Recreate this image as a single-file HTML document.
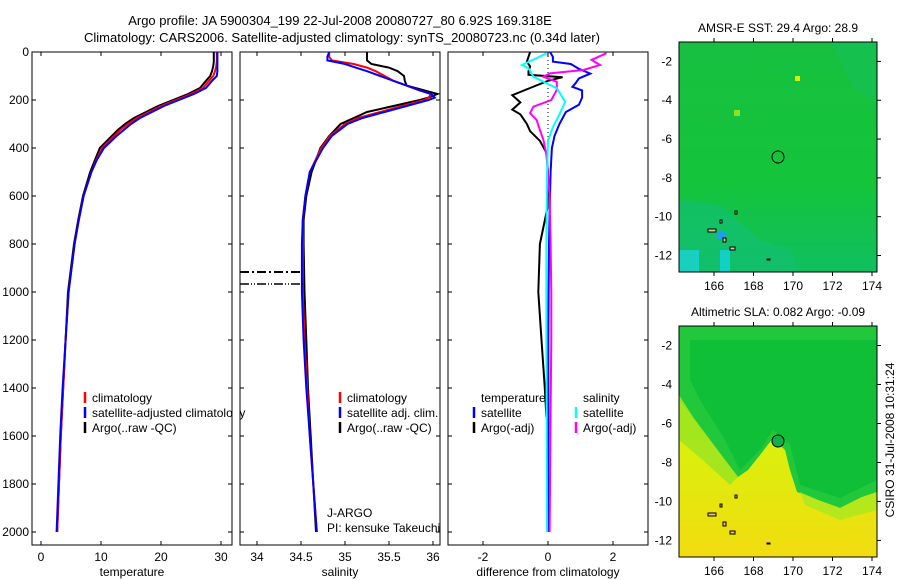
<!DOCTYPE html>
<html><head><meta charset="utf-8"><style>
body{margin:0;background:#fff;}
svg{display:block;font-family:"Liberation Sans",sans-serif;}
text{font-size:12px;fill:#000;}
</style></head><body>
<svg id="c" width="900" height="580" viewBox="0 0 900 580">
<defs>
<linearGradient id="sstg" x1="0" y1="0" x2="0" y2="1">
<stop offset="0" stop-color="#17c040"/><stop offset="0.6" stop-color="#14c43a"/><stop offset="1" stop-color="#10bf60"/></linearGradient>
<linearGradient id="slag" x1="0" y1="0" x2="0" y2="1">
<stop offset="0" stop-color="#b7ea1a"/><stop offset="0.5" stop-color="#d9f00c"/><stop offset="1" stop-color="#f2dc10"/></linearGradient>
</defs>
<g id="plots"></g>
<text x="340" y="25" text-anchor="middle" style="font-size:13px">Argo profile: JA 5900304_199 22-Jul-2008 20080727_80 6.92S 169.318E</text>
<text x="342" y="42" text-anchor="middle" style="font-size:13px">Climatology: CARS2006. Satellite-adjusted climatology: synTS_20080723.nc (0.34d later)</text>

<g>
<rect x="679" y="42" width="198" height="230" fill="url(#sstg)"/>
<polygon points="679,200 720,205 760,240 790,250 800,272 679,272" fill="#12bf70" opacity="0.7"/>
<polygon points="830,42 877,42 877,100 855,90 840,60" fill="#14c060" opacity="0.5"/>
<rect x="679" y="250" width="20" height="22" fill="#18d0c0"/>
<rect x="720" y="250" width="10" height="22" fill="#10d0c8"/>
<rect x="718" y="232" width="8" height="8" fill="#1f9ef0"/>
<rect x="734" y="110" width="6" height="6" fill="#8ee020"/>
<rect x="795" y="76" width="5" height="5" fill="#d8f000"/>
<circle cx="778" cy="157" r="6" fill="none" stroke="#000" stroke-width="1"/>
<rect x="679" y="42" width="198" height="230" fill="none" stroke="#000"/>
</g>
<text x="778" y="32" text-anchor="middle">AMSR-E SST: 29.4  Argo: 28.9</text>

<g>
<rect x="679" y="326" width="198" height="231" fill="url(#slag)"/>
<polygon points="679,326 877,326 877,492 862,497 840,508 818,500 797,492 790,470 785,450 773,438 760,455 748,470 738,477 725,460 710,440 695,420 679,400" fill="#22c83c"/>
<polygon points="690,340 877,340 877,480 840,498 800,485 790,445 773,430 760,450 740,470 725,440 700,400 690,380" fill="#10bf38"/>
<polygon points="679,395 695,420 710,440 725,460 738,477 730,485 705,462 679,440" fill="#9ee420" opacity="0.9"/>
<polygon points="800,492 818,500 840,508 862,497 877,492 877,510 840,520 805,505" fill="#a8e820" opacity="0.8"/>
<circle cx="778" cy="441" r="6" fill="#10b048" stroke="#000" stroke-width="1"/>
<rect x="679" y="326" width="198" height="231" fill="none" stroke="#000"/>
</g>
<text x="778" y="316" text-anchor="middle">Altimetric SLA: 0.082  Argo: -0.09</text>
<text transform="translate(894,440) rotate(-90)" text-anchor="middle">CSIRO 31-Jul-2008 10:31:24</text>
</svg>
<script>
// ---- data ----
const depthsT = [0,20,40,60,80,100,120,150,175,200,225,250,275,300,325,350,400,450,500,600,700,800,900,1000,1200,1400,1600,1800,2000];
const argoT = [28.8,28.8,28.8,28.7,28.5,28.2,27.5,26.5,24.5,22,19.5,17.5,15.5,14,12.8,11.8,9.8,9,8.2,7,6.2,5.5,5,4.5,4.1,3.7,3.3,3,2.7];
const climT = [29.3,29.3,29.3,29.2,29,28.7,28,27,25,22.5,20,18,16,14.5,13.2,12.2,10.2,9.2,8.4,7.1,6.3,5.6,5.1,4.6,4.1,3.7,3.3,3,2.7];
const satT = [29.4,29.4,29.4,29.4,29.4,29.3,28.5,27.5,25.5,23,20.5,18.5,16.5,15,13.8,12.6,10.5,9.3,8.4,7.1,6.3,5.6,5.1,4.6,4.1,3.6,3.2,2.9,2.6];
const depthsS = [0,20,35,50,65,80,100,120,140,160,175,190,200,225,250,275,300,350,400,500,600,700,800,1000,1200,1400,1600,1800,2000];
const argoS = [35.25,35.25,35.25,35.3,35.5,35.6,35.67,35.68,35.7,35.9,36.05,35.95,35.85,35.55,35.25,35.1,34.95,34.82,34.72,34.62,34.56,34.53,34.53,34.54,34.56,34.58,34.61,34.64,34.67];
const climS = [34.82,34.82,34.85,35.1,35.25,35.35,35.45,35.55,35.7,35.85,35.98,35.95,35.9,35.65,35.4,35.15,35.0,34.83,34.73,34.6,34.55,34.52,34.52,34.52,34.54,34.57,34.6,34.64,34.68];
const satS = [34.82,34.8,34.8,35.0,35.12,35.25,35.4,35.55,35.7,35.85,35.98,36.02,35.95,35.7,35.45,35.2,35.03,34.85,34.75,34.6,34.55,34.52,34.51,34.51,34.53,34.56,34.6,34.64,34.68];
const depthsDA = [0,20,40,60,80,95,105,120,150,180,210,240,260,300,330,370,420,500,650,800,1000,1200,1400,1520];
const diffTArgo = [-0.55,-0.6,-0.65,-0.55,-0.6,-0.6,0.45,0,-0.55,-1.1,-0.85,-1.1,-0.85,-0.65,-0.55,-0.25,-0.05,0,-0.02,-0.25,-0.3,-0.2,-0.1,-0.05];
const depthsDB = [0,20,40,50,70,90,110,130,145,160,190,220,250,300,350,400,500,600,800,1000,1200,1500,2000];
const diffTSat = [0.06,0.15,0.15,0.7,0.95,1.3,0.95,0.85,0.75,1.05,1.05,0.95,0.55,0.35,0.2,0.12,0.08,0.06,0.03,0.02,0.01,0.01,0.0];
const depthsDM = [5,33,54,75,89,103,124,158,200,228,255,283,325,367,436,600,800,1000,1200,1500,2000];
const diffSArgo = [1.8,1.34,1.6,1.09,0.06,-0.14,0.27,0.27,0.1,-0.45,-0.55,-0.35,-0.25,-0.14,-0.04,0.05,0.08,0.1,0.1,0.08,0.05];
const depthsDC = [5,26,54,68,103,131,151,172,207,255,311,367,506,800,1200,1600,2000];
const diffSSat = [-0.04,-0.35,-0.8,-0.6,-0.45,-0.04,0.27,0.37,0.53,0.37,0.16,0,-0.03,-0.05,-0.05,-0.04,-0.03];
const depthTicks = [0,200,400,600,800,1000,1200,1400,1600,1800,2000];
const tempTicks = [0,10,20,30];
const salTicks = ["34","34.5","35","35.5","36"];
const diffTicks = [-2,0,2];
const lonTicks = [166,168,170,172,174];
const latTicks = [-2,-4,-6,-8,-10,-12];

const NS='http://www.w3.org/2000/svg';
const g=document.getElementById('plots');
function el(tag,attrs,parent){const e=document.createElementNS(NS,tag);for(const k in attrs)e.setAttribute(k,attrs[k]);(parent||g).appendChild(e);return e;}
const yTop=52, yBot=545;
const yD=d=>yTop+d*0.24;
const panels=[
 {x0:32,x1:232,sx:v=>41+v*6,ticks:tempTicks,label:'temperature',name:'temperature-panel'},
 {x0:240,x1:440,sx:v=>257+(v-34)*88,ticks:salTicks.map(Number),tl:salTicks,label:'salinity',name:'salinity-panel'},
 {x0:448,x1:648,sx:v=>548+v*32.5,ticks:diffTicks,label:'difference from climatology',name:'difference-panel'}
];
panels.forEach((p,i)=>{
  const grp=el('g',{});
  
  
  el('rect',{x:p.x0,y:yTop,width:p.x1-p.x0,height:yBot-yTop,fill:'#fff',stroke:'#000','stroke-width':1},grp);
  depthTicks.forEach(d=>{
    el('line',{x1:p.x0,x2:p.x0+4,y1:yD(d),y2:yD(d),stroke:'#000'},grp);
    el('line',{x1:p.x1,x2:p.x1-4,y1:yD(d),y2:yD(d),stroke:'#000'},grp);
    if(i===0){const t=el('text',{x:29,y:yD(d)+4,'text-anchor':'end'},grp);t.textContent=d;
      
      }
  });
  p.ticks.forEach((v,k)=>{
    const x=p.sx(v);
    el('line',{x1:x,x2:x,y1:yBot,y2:yBot-4,stroke:'#000'},grp);
    el('line',{x1:x,x2:x,y1:yTop,y2:yTop+4,stroke:'#000'},grp);
    const t=el('text',{x:x,y:561,'text-anchor':'middle'},grp);t.textContent=p.tl?p.tl[k]:v;
    
    
  });
  const xl=el('text',{x:(p.x0+p.x1)/2,y:576,'text-anchor':'middle'},grp);xl.textContent=p.label;
  
  
});
function line(depths,vals,sx,color,name,w){
  const pts=depths.map((d,i)=>sx(vals[i]).toFixed(1)+','+yD(d).toFixed(1)).join(' ');
  const e=el('polyline',{points:pts,fill:'none',stroke:color,'stroke-width':w||2});
  
  
}
const P=panels;
line(depthsT,argoT,P[0].sx,'#000','argo-temperature-line');
line(depthsT,climT,P[0].sx,'#f00','climatology-temperature-line');
line(depthsT,satT,P[0].sx,'#00f','satellite-temperature-line');
line(depthsS,argoS,P[1].sx,'#000','argo-salinity-line');
line(depthsS,climS,P[1].sx,'#f00','climatology-salinity-line');
line(depthsS,satS,P[1].sx,'#00f','satellite-salinity-line');
const zl=el('line',{x1:548,x2:548,y1:yTop,y2:yD(450),stroke:'#000','stroke-dasharray':'1,3'});


line(depthsDA,diffTArgo,P[2].sx,'#000','temperature-argo-diff-line');
line(depthsDB,diffTSat,P[2].sx,'#00f','temperature-satellite-diff-line');
line(depthsDM,diffSArgo,P[2].sx,'#f0f','salinity-argo-diff-line');
line(depthsDC,diffSSat,P[2].sx,'#0ff','salinity-satellite-diff-line');
const dl1=el('line',{x1:240,x2:303,y1:272,y2:272,stroke:'#000','stroke-width':2,'stroke-dasharray':'9,3,2,3'});


const dl2=el('line',{x1:240,x2:303,y1:284,y2:284,stroke:'#000','stroke-width':1.5,'stroke-dasharray':'9,2,1,2,1,2'});


function legend(x,y,color,label){
  if(color){const m=el('line',{x1:x,x2:x,y1:y-10,y2:y+1,stroke:color,'stroke-width':2.5});
    
    }
  const t=el('text',{x:x+7,y:y});t.textContent=label;
  
  
}
legend(85,402,'#f00','climatology');
legend(85,417,'#00f','satellite-adjusted climatology');
legend(85,432,'#000','Argo(..raw -QC)');
legend(340,402,'#f00','climatology');
legend(340,417,'#00f','satellite adj. clim.');
legend(340,432,'#000','Argo(..raw -QC)');
legend(474,402,null,'temperature');
legend(474,417,'#00f','satellite');
legend(474,432,'#000','Argo(-adj)');
legend(576,402,null,'salinity');
legend(576,417,'#0ff','satellite');
legend(576,432,'#f0f','Argo(-adj)');
const cv=el('rect',{x:233,y:405,width:6,height:16,fill:'#fff'});


const ja=el('text',{x:327,y:517});ja.textContent='J-ARGO';


const pi=el('text',{x:327,y:532});pi.textContent='PI: kensuke Takeuchi';


const svg=document.getElementById('c');
[[42,272],[326,557]].forEach(([t,b],mi)=>{
  const lonX=v=>714+(v-166)*19.75;
  const latY=v=>t+(v+1.0)*-(b-t)/11.85;
  lonTicks.forEach(v=>{
    const x=lonX(v);
    const a=document.createElementNS(NS,'line');a.setAttribute('x1',x);a.setAttribute('x2',x);a.setAttribute('y1',t);a.setAttribute('y2',t-4);a.setAttribute('stroke','#000');svg.appendChild(a);
    const a2=document.createElementNS(NS,'line');a2.setAttribute('x1',x);a2.setAttribute('x2',x);a2.setAttribute('y1',b);a2.setAttribute('y2',b+4);a2.setAttribute('stroke','#000');svg.appendChild(a2);
    const tx=document.createElementNS(NS,'text');tx.setAttribute('x',x);tx.setAttribute('y',b+18);tx.setAttribute('text-anchor','middle');tx.textContent=v;
    
    
    svg.appendChild(tx);
  });
  latTicks.forEach(v=>{
    const y=latY(v);
    const a=document.createElementNS(NS,'line');a.setAttribute('x1',877);a.setAttribute('x2',881);a.setAttribute('y1',y);a.setAttribute('y2',y);a.setAttribute('stroke','#000');svg.appendChild(a);
    const tx=document.createElementNS(NS,'text');tx.setAttribute('x',672);tx.setAttribute('y',y+4);tx.setAttribute('text-anchor','end');tx.textContent=v;
    
    
    svg.appendChild(tx);
  });
  [[708,t+187,8,3],[723,t+196,3,4],[730,t+205,5,3],[720,t+178,2,3],[735,t+169,2,3],[767,t+217,3,1]].forEach(r=>{
    const isl=document.createElementNS(NS,'rect');isl.setAttribute('x',r[0]);isl.setAttribute('y',r[1]);isl.setAttribute('width',r[2]);isl.setAttribute('height',r[3]);isl.setAttribute('fill','#e8c090');isl.setAttribute('stroke','#000');isl.setAttribute('stroke-width','1');
    
    
    svg.appendChild(isl);
  });
});
</script>
</body></html>
